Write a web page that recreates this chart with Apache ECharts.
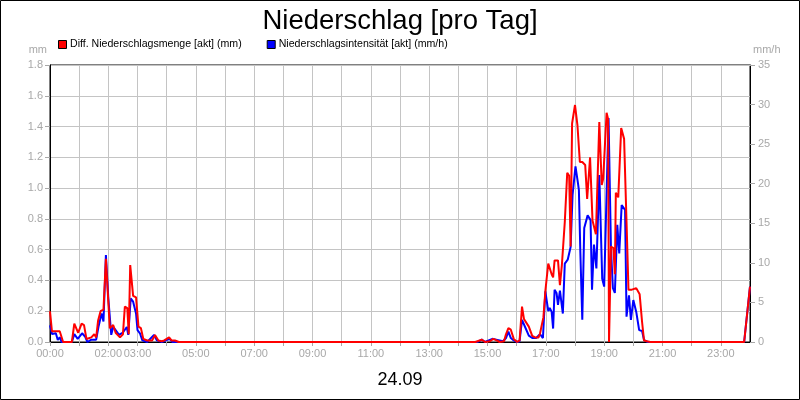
<!DOCTYPE html>
<html>
<head>
<meta charset="utf-8">
<script src="https://cdn.jsdelivr.net/npm/echarts@6/dist/echarts.min.js"></script>
<style>
html,body{margin:0;padding:0;background:#fff;}
#chart{width:800px;height:400px;}
</style>
</head>
<body>
<div id="chart"></div>
<script>
// Time in minutes since 00:00 on 24.09
const titleText = 'Niederschlag [pro Tag]';
const dateText = '24.09';
const seriesNames = ['Diff. Niederschlagsmenge [akt] (mm)', 'Niederschlagsintensität [akt] (mm/h)'];
const shownHourLabels = ['00:00','02:00','03:00','05:00','07:00','09:00','11:00','13:00','15:00','17:00','19:00','21:00','23:00'];

// Diff. Niederschlagsmenge (mm)
const mmTimes = [0,4,10,14,20,27,45,50,58,65,70,75,85,91,95,99,104,110,115,123,130,135,144,150,154,159,162,165,171,177,182,187,192,200,210,216,223,230,235,245,250,257,265,
  875,888,895,905,912,919,925,934,938,943,948,954,961,966,971,975,978,985,992,998,1005,1008,1012,1015,1019,1025,1032,1035,1038,1045,1049,1053,1059,1064,1068,1071,1074,1080,1085,1090,1095,1101,1105,1111,1116,1120,1123,1130,1135,1138,1145,1148,1150,1154,1159,1162,1164,1169,1172,1175,1181,1186,1190,1197,1206,1213,1218,1222,1228,1235,1428,1440];
const mmValues = [0.20,0.07,0.07,0.06,0.07,0.00,0.00,0.12,0.06,0.12,0.11,0.02,0.03,0.05,0.03,0.14,0.20,0.21,0.54,0.09,0.11,0.06,0.03,0.05,0.23,0.22,0.05,0.50,0.30,0.29,0.10,0.09,0.02,0.01,0.01,0.045,0.01,0.005,0.01,0.03,0.01,0.01,0.00,
  0.00,0.015,0.00,0.005,0.02,0.01,0.00,0.005,0.05,0.09,0.08,0.02,0.00,0.01,0.23,0.15,0.14,0.10,0.04,0.03,0.03,0.055,0.05,0.16,0.33,0.51,0.44,0.42,0.53,0.53,0.37,0.50,0.78,1.10,1.08,0.62,1.42,1.54,1.41,1.17,1.17,1.15,0.93,1.20,0.79,0.80,0.70,1.43,1.02,1.06,1.49,1.45,0.00,0.62,0.61,0.44,0.97,0.94,0.95,1.39,1.32,0.78,0.34,0.34,0.35,0.31,0.13,0.01,0.005,0.00,0.00,0.36];

// Niederschlagsintensität (mm/h)
const mmhTimes = [0,4,12,16,20,24,45,50,57,66,72,77,85,95,100,106,110,115,120,126,130,135,142,150,158,161,166,171,177,180,185,190,200,214,220,230,246,252,
  880,888,895,910,918,925,932,938,943,948,954,961,966,971,978,985,992,1000,1008,1014,1019,1025,1028,1032,1035,1038,1042,1045,1049,1055,1059,1065,1068,1071,1075,1081,1086,1088,1091,1095,1099,1106,1112,1115,1119,1124,1130,1136,1140,1149,1154,1158,1162,1167,1171,1176,1179,1183,1186,1191,1195,1200,1206,1212,1218,1222,1230,1428,1440];
const mmhValues = [2.1,1.0,1.1,0.25,0.6,0.0,0.0,1.0,0.4,1.1,0.7,0.0,0.3,0.3,2.0,3.6,2.6,11.0,5.5,0.9,1.9,1.5,0.9,1.2,1.9,0.9,5.5,5.1,3.6,1.5,1.1,0.2,0.0,0.9,0.2,0.0,0.4,0.0,
  0.0,0.3,0.0,0.4,0.3,0.2,0.1,0.5,1.3,0.5,0.2,0.0,0.1,2.8,1.8,0.8,0.5,0.5,1.0,0.5,6.4,3.9,4.3,3.8,1.7,6.6,6.2,4.7,6.5,3.6,9.9,10.4,10.5,12.0,18.6,22.2,20.1,19.2,11.3,2.8,14.4,16.0,15.4,6.6,12.3,9.3,21.1,8.0,7.0,28.3,11.8,6.8,6.2,14.8,11.2,17.3,17.5,16.7,3.2,5.9,2.8,5.3,3.8,1.5,1.4,0.25,0.0,0.0,7.0];

const leftTicks = {min:0, max:1.8, step:0.2};
const rightTicks = {min:0, max:35, step:5};

function zip(t, v){ return t.map((x,i)=>[x, v[i]]); }
function fmtTime(m){ const h=Math.floor(m/60), mi=m%60; return String(h).padStart(2,'0')+':'+String(mi).padStart(2,'0'); }

const FONT = 'Liberation Sans, Arial, sans-serif';
const GRAY = '#a8a8a8';
const GRID = '#c4c4c4';

const chart = echarts.init(document.getElementById('chart'), null, {renderer:'canvas'});
chart.setOption({
  animation:false,
  backgroundColor:'#fff',
  textStyle:{fontFamily:FONT},
  title:[
    {text:titleText, left:'center', top:2, textStyle:{fontFamily:FONT, fontSize:27.5, fontWeight:'normal', color:'#000'}},
    {text:dateText, left:'center', top:366, textStyle:{fontFamily:FONT, fontSize:18, fontWeight:'normal', color:'#000'}}
  ],
  legend:{
    data:seriesNames, left:58, top:39, padding:0, icon:'rect', itemWidth:8, itemHeight:8, itemGap:25,
    itemStyle:{borderColor:'#000', borderWidth:1},
    textStyle:{fontFamily:FONT, fontSize:10.6, color:'#000', padding:[0,0,0,-1.5]}
  },
  grid:{left:50, right:50, top:65, bottom:58, show:true, borderColor:'#000', borderWidth:1, containLabel:false},
  xAxis:{
    type:'value', min:0, max:1440, interval:60,
    axisLine:{show:true, lineStyle:{color:'#000', width:1}},
    axisTick:{show:true, length:4, lineStyle:{color:GRAY}},
    axisLabel:{color:GRAY, fontFamily:FONT, fontSize:11, margin:6, showMinLabel:true, showMaxLabel:false,
      formatter:v=>{ const s=fmtTime(v); return shownHourLabels.includes(s)?s:''; }},
    splitLine:{show:true, lineStyle:{color:GRID, width:1}}
  },
  yAxis:[
    {type:'value', position:'left', min:leftTicks.min, max:leftTicks.max, interval:leftTicks.step,
     name:'mm', nameLocation:'end', nameGap:10, nameTextStyle:{color:GRAY, fontFamily:FONT, fontSize:11, align:'right', padding:[0,3,0,0]},
     axisLine:{show:true, lineStyle:{color:'#000'}},
     axisTick:{show:true, length:5, lineStyle:{color:GRAY}},
     axisLabel:{color:GRAY, fontFamily:FONT, fontSize:11, margin:7, formatter:v=>v.toFixed(1)},
     splitLine:{show:true, lineStyle:{color:GRID, width:1}}},
    {type:'value', position:'right', min:rightTicks.min, max:rightTicks.max, interval:rightTicks.step,
     name:'mm/h', nameLocation:'end', nameGap:10, nameTextStyle:{color:GRAY, fontFamily:FONT, fontSize:11, align:'left', padding:[0,0,0,3]},
     axisLine:{show:true, lineStyle:{color:'#000'}},
     axisTick:{show:true, length:5, lineStyle:{color:GRAY}},
     axisLabel:{color:GRAY, fontFamily:FONT, fontSize:11, margin:8},
     splitLine:{show:false}}
  ],
  graphic:[{type:'rect', shape:{x:0.5, y:0.5, width:799, height:399}, style:{fill:null, stroke:'#000', lineWidth:1}, silent:true, z:100}],
  series:[
    {name:seriesNames[0], type:'line', yAxisIndex:0, data:zip(mmTimes, mmValues), showSymbol:false, symbol:'none',
     lineStyle:{color:'#ff0000', width:2}, itemStyle:{color:'#ff0000'}, z:3},
    {name:seriesNames[1], type:'line', yAxisIndex:1, data:zip(mmhTimes, mmhValues), showSymbol:false, symbol:'none',
     lineStyle:{color:'#0000ff', width:2}, itemStyle:{color:'#0000ff'}, z:2}
  ]
});
</script>
</body>
</html>
